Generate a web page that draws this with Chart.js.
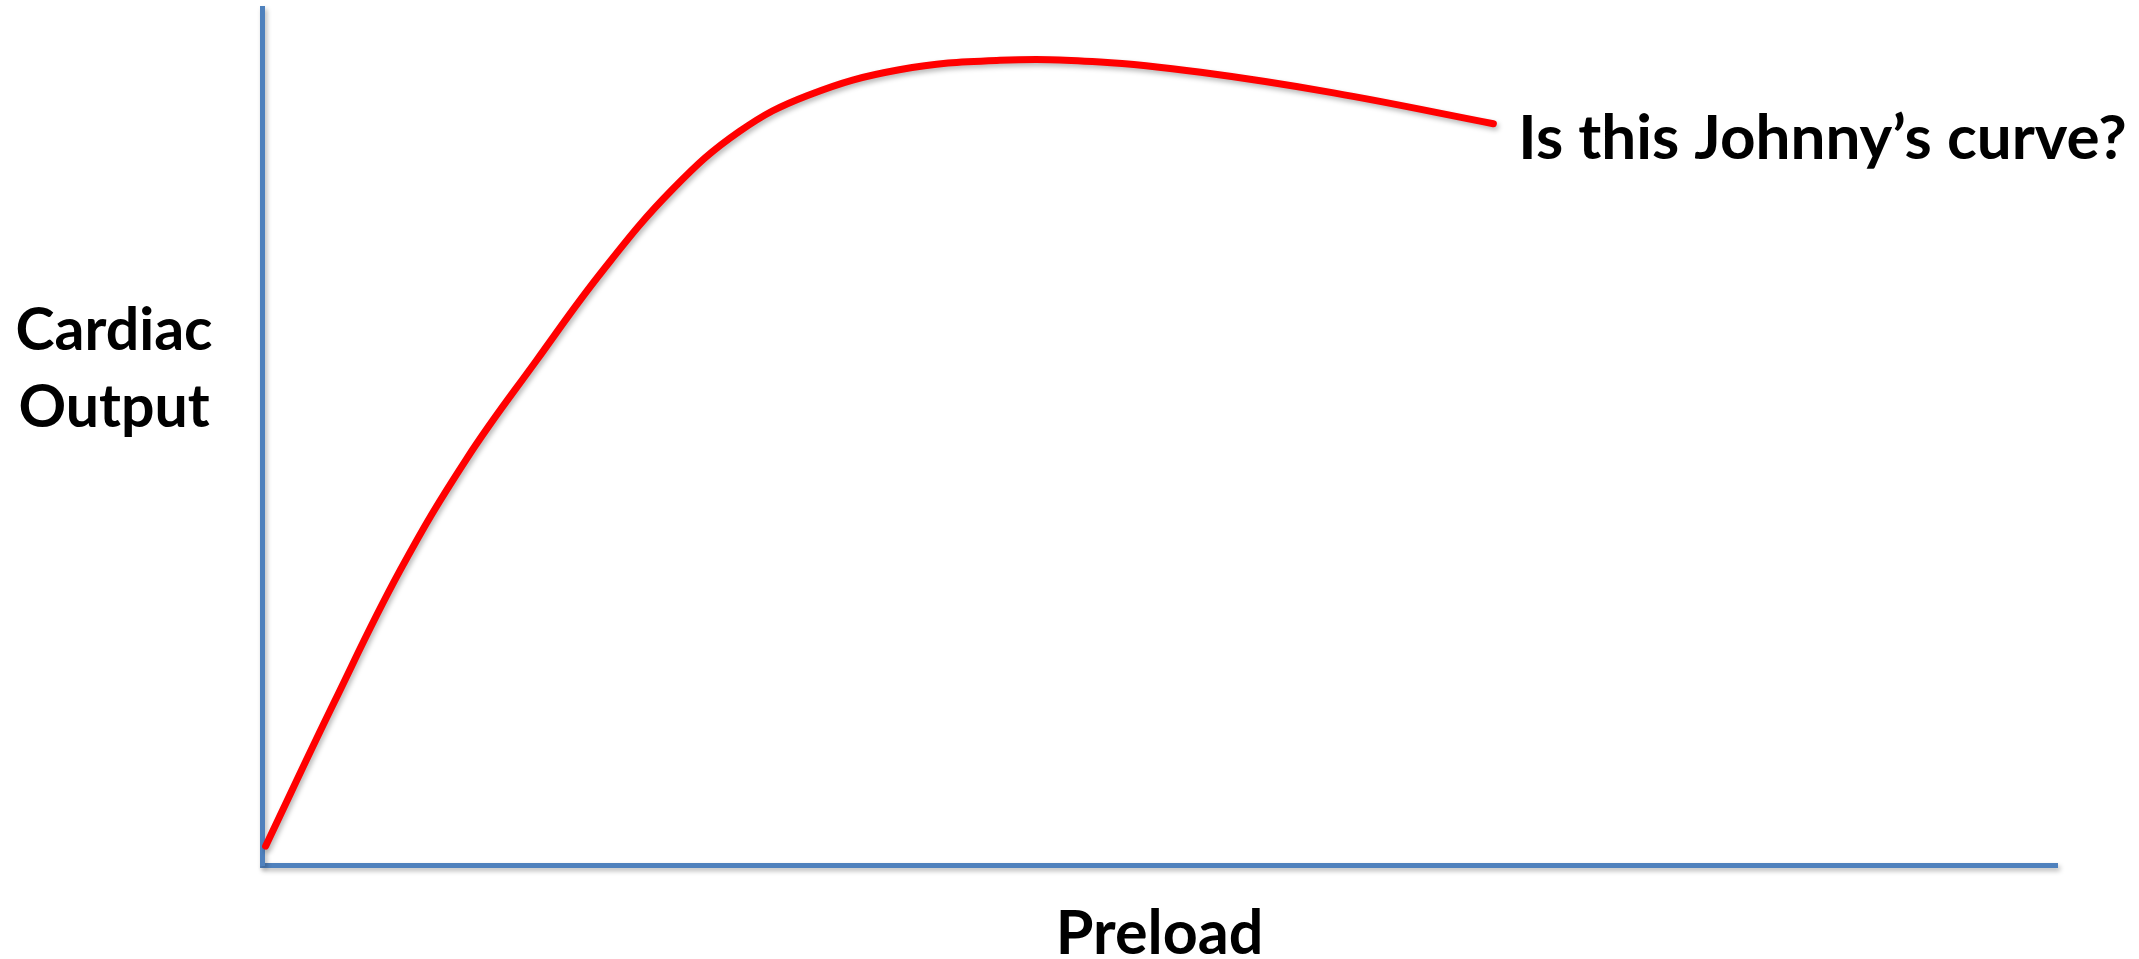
<!DOCTYPE html>
<html>
<head>
<meta charset="utf-8">
<script src="https://cdn.jsdelivr.net/npm/chart.js@4.4.1/dist/chart.umd.min.js"></script>
<style>
  html, body { margin: 0; padding: 0; background: #ffffff; }
  #wrap { width: 2139px; height: 959px; }
</style>
</head>
<body>
<div id="wrap"><canvas id="curveChart"></canvas></div>
<script>
// 前負荷 (x) と 心拍出量 (y)、目盛りなしの 0〜100 の相対値
var preload = [0.2, 4.0, 7.7, 11.4, 15.3, 19.0, 22.9, 26.6, 30.4, 35.5, 41.1, 46.7, 52.3, 59.7, 68.6];
var cardiacOutput = [2.2, 18.9, 34.4, 47.4, 58.9, 69.4, 78.9, 85.6, 89.8, 92.8, 93.9, 93.7, 92.5, 90.1, 86.5];

// ラベル
var xLabel = "Preload";
var yLabel = ["Cardiac", "Output"];
var curveNote = "Is this Johnny\u2019s curve?";

var points = preload.map(function (x, i) { return { x: x, y: cardiacOutput[i] }; });

var FONT = "Lato, 'Open Sans', sans-serif";

// 軸と曲線にうすい影をつける
var shadowPlugin = {
  id: 'shadow',
  beforeDraw: function (chart) {
    var ctx = chart.ctx;
    ctx.save();
    ctx.shadowColor = 'rgba(0,0,0,0.28)';
    ctx.shadowBlur = 5;
    ctx.shadowOffsetX = 2;
    ctx.shadowOffsetY = 3;
  },
  afterDatasetsDraw: function (chart) {
    chart.ctx.restore();
  }
};

// 文字（軸名と注釈）
var textPlugin = {
  id: 'labels',
  afterDraw: function (chart) {
    var ctx = chart.ctx;
    var xs = chart.scales.x, ys = chart.scales.y;
    ctx.save();
    ctx.fillStyle = '#000000';
    ctx.textAlign = 'center';
    ctx.textBaseline = 'alphabetic';

    // 縦軸ラベル（横書き2行）
    ctx.font = "bold 59px " + FONT;
    ctx.fillText(yLabel[0], 114, 350);
    ctx.fillText(yLabel[1], 114, 427);

    // 横軸ラベル
    ctx.font = "bold 61px " + FONT;
    ctx.fillText(xLabel, (xs.left + xs.right) / 2, 954);

    // 曲線の終点の注釈
    var last = points[points.length - 1];
    var px = xs.getPixelForValue(last.x);
    var py = ys.getPixelForValue(last.y);
    ctx.textAlign = 'left';
    ctx.font = "bold 62px " + FONT;
    ctx.fillText(curveNote, px + 25, py + 35);
    ctx.restore();
  }
};

var ctx1 = document.getElementById("curveChart");
var myChart1 = new Chart(ctx1, {
  type: 'line',
  data: {
    datasets: [
      {
        data: points,
        borderColor: "#ff0000",
        borderWidth: 7,
        borderCapStyle: 'round',
        pointRadius: 0,
        fill: false,
        tension: 0.4
      }
    ]
  },
  options: {
    responsive: true,
    maintainAspectRatio: false,
    animation: false,
    layout: {
      padding: { left: 262, right: 82, top: 8, bottom: 94 }
    },
    plugins: {
      legend: { display: false },
      tooltip: { enabled: false }
    },
    scales: {
      x: {
        type: 'linear',
        min: 0,
        max: 100,
        ticks: { display: false },
        grid: { display: false, drawTicks: false },
        border: { display: true, color: '#4f81bd', width: 5 }
      },
      y: {
        min: 0,
        max: 100,
        ticks: { display: false },
        grid: { display: false, drawTicks: false },
        border: { display: true, color: '#4f81bd', width: 5 }
      }
    }
  },
  plugins: [shadowPlugin, textPlugin]
});
</script>
</body>
</html>
